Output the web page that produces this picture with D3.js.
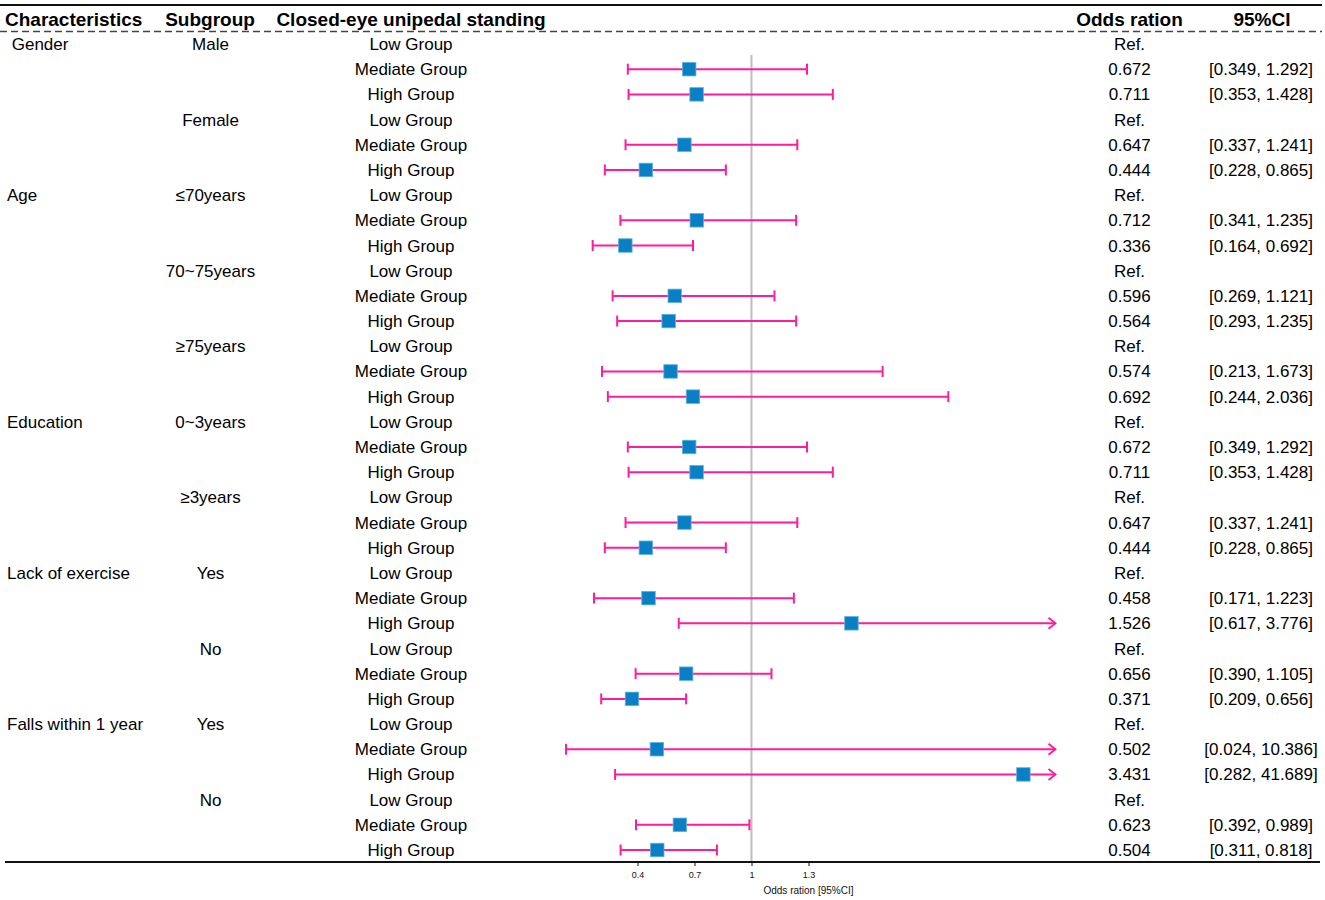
<!DOCTYPE html>
<html>
<head>
<meta charset="utf-8">
<script src="https://cdn.jsdelivr.net/npm/d3@7"></script>
<style>
  html, body { margin: 0; padding: 0; background: #fff; }
  svg { display: block; font-family: "Liberation Sans", Arial, sans-serif; }
  text { white-space: pre; }
</style>
</head>
<body>
<svg id="chart" width="1325" height="900"></svg>
<script>
// ---------------- DATA ----------------
const headers = ["Characteristics", "Subgroup", "Closed-eye unipedal standing", "Odds ration", "95%CI"];

const characteristics = [" Gender","","","","","",
  "Age","","","","","","","","",
  "Education","","","","","",
  "Lack of exercise","","","","","",
  "Falls within 1 year","","","","",""];

const subgroups = ["Male","","","Female","","",
  "\u226470years","","","70~75years","","","\u226575years","","",
  "0~3years","","","\u22653years","","",
  "Yes","","","No","","",
  "Yes","","","No","",""];

const groupLevels = ["Low Group","Mediate Group","High Group"];

const orLabels = ["Ref.","0.672","0.711","Ref.","0.647","0.444",
  "Ref.","0.712","0.336","Ref.","0.596","0.564","Ref.","0.574","0.692",
  "Ref.","0.672","0.711","Ref.","0.647","0.444",
  "Ref.","0.458","1.526","Ref.","0.656","0.371",
  "Ref.","0.502","3.431","Ref.","0.623","0.504"];

const ciLabels = ["","[0.349, 1.292]","[0.353, 1.428]","","[0.337, 1.241]","[0.228, 0.865]",
  "","[0.341, 1.235]","[0.164, 0.692]","","[0.269, 1.121]","[0.293, 1.235]","","[0.213, 1.673]","[0.244, 2.036]",
  "","[0.349, 1.292]","[0.353, 1.428]","","[0.337, 1.241]","[0.228, 0.865]",
  "","[0.171, 1.223]","[0.617, 3.776]","","[0.390, 1.105]","[0.209, 0.656]",
  "","[0.024, 10.386]","[0.282, 41.689]","","[0.392, 0.989]","[0.311, 0.818]"];

// plotted values
const estimates = [null,0.672,0.711,null,0.647,0.444,
  null,0.712,0.336,null,0.596,0.564,null,0.574,0.692,
  null,0.672,0.711,null,0.647,0.444,
  null,0.458,1.526,null,0.656,0.371,
  null,0.502,2.431,null,0.623,0.504];

const lowerCI = [null,0.349,0.353,null,0.337,0.228,
  null,0.31,0.164,null,0.269,0.293,null,0.213,0.244,
  null,0.349,0.353,null,0.337,0.228,
  null,0.171,0.617,null,0.390,0.209,
  null,0.024,0.282,null,0.392,0.311];

const upperCI = [null,1.292,1.428,null,1.241,0.865,
  null,1.235,0.692,null,1.121,1.235,null,1.69,2.036,
  null,1.292,1.428,null,1.241,0.865,
  null,1.223,3.776,null,1.105,0.656,
  null,10.386,41.689,null,0.989,0.818];

const xTicks = [0.4, 0.7, 1, 1.3];
const xTitle = "Odds ration [95%CI]";

// ---------------- LAYOUT ----------------
const nRows = characteristics.length;
const rowIdx = d3.range(nRows);
const levels = rowIdx.map(i => groupLevels[i % 3]);

const svg = d3.select("#chart");
const x = d3.scaleLinear().domain([0, 2.6]).range([561.5, 1055.5]);
const y = d3.scaleLinear().domain([0, nRows - 1]).range([44, 850]);

const pink = "#ff1c9c";
const blue = "#0a80c4";
const FS = 17, FSB = 19;

// top line
svg.append("line").attr("x1", 0).attr("x2", 1322).attr("y1", 5).attr("y2", 5)
  .attr("stroke", "#111").attr("stroke-width", 2);
// dashed header line
svg.append("line").attr("x1", 0).attr("x2", 1322).attr("y1", 31.5).attr("y2", 31.5)
  .attr("stroke", "#444").attr("stroke-width", 1.5).attr("stroke-dasharray", "7,4");

// headers
const headerPos = [
  {x: 5, anchor: "start"},
  {x: 210, anchor: "middle"},
  {x: 411, anchor: "middle"},
  {x: 1129.5, anchor: "middle"},
  {x: 1262, anchor: "middle"}
];
svg.selectAll("text.hdr").data(headers).join("text")
  .attr("class", "hdr")
  .attr("x", (d, i) => headerPos[i].x)
  .attr("y", 25.5)
  .attr("text-anchor", (d, i) => headerPos[i].anchor)
  .attr("font-size", FSB).attr("font-weight", "bold").attr("fill", "#000")
  .text(d => d);

// body text columns
function col(arr, xp, anchor) {
  svg.append("g").selectAll("text").data(rowIdx.filter(i => arr[i] !== "")).join("text")
    .attr("x", xp).attr("y", i => y(i) + 6)
    .attr("text-anchor", anchor)
    .attr("font-size", FS).attr("fill", "#000")
    .text(i => arr[i]);
}
col(characteristics, 7, "start");
col(subgroups, 210.5, "middle");
col(levels, 411, "middle");
col(orLabels, 1129.5, "middle");
col(ciLabels, 1261, "middle");

// reference line
svg.append("line").attr("x1", x(1)).attr("x2", x(1)).attr("y1", 55).attr("y2", 862)
  .attr("stroke", "#bdbdbd").attr("stroke-width", 2);

// forest marks
const plotted = rowIdx.filter(i => estimates[i] !== null);
const xMax = x.domain()[1];
const g = svg.append("g");
plotted.forEach(i => {
  const yy = y(i);
  const lo = x(lowerCI[i]);
  const clipped = upperCI[i] > xMax;
  const hi = x(Math.min(upperCI[i], xMax));
  g.append("line").attr("x1", lo).attr("x2", hi).attr("y1", yy).attr("y2", yy)
    .attr("stroke", pink).attr("stroke-width", 2);
  g.append("line").attr("x1", lo).attr("x2", lo).attr("y1", yy - 5.5).attr("y2", yy + 5.5)
    .attr("stroke", pink).attr("stroke-width", 2);
  if (clipped) {
    g.append("path").attr("d", `M${hi - 7},${yy - 5.5}L${hi},${yy}L${hi - 7},${yy + 5.5}`)
      .attr("fill", "none").attr("stroke", pink).attr("stroke-width", 1.8);
  } else {
    g.append("line").attr("x1", hi).attr("x2", hi).attr("y1", yy - 5.5).attr("y2", yy + 5.5)
      .attr("stroke", pink).attr("stroke-width", 2);
  }
  const s = 13.5;
  g.append("rect").attr("x", x(estimates[i]) - s / 2).attr("y", yy - s / 2)
    .attr("width", s).attr("height", s)
    .attr("fill", blue).attr("stroke", "#5fb2e2").attr("stroke-width", 0.8);
});

// bottom axis line
svg.append("line").attr("x1", 5).attr("x2", 1320).attr("y1", 862).attr("y2", 862)
  .attr("stroke", "#111").attr("stroke-width", 2);

// x axis ticks
const axis = d3.axisBottom(x).tickValues(xTicks).tickFormat(d => String(d))
  .tickSize(4).tickPadding(6);
const ax = svg.append("g").attr("transform", "translate(0,862)").call(axis);
ax.select(".domain").remove();
ax.selectAll(".tick line").attr("stroke", "#111").attr("stroke-width", 1);
ax.selectAll(".tick text").attr("font-size", 9).attr("fill", "#111")
  .attr("font-family", "'Liberation Sans', Arial, sans-serif");

svg.append("text").attr("x", (x.range()[0] + x.range()[1]) / 2).attr("y", 894)
  .attr("text-anchor", "middle").attr("font-size", 10).attr("fill", "#111")
  .text(xTitle);
</script>
</body>
</html>
